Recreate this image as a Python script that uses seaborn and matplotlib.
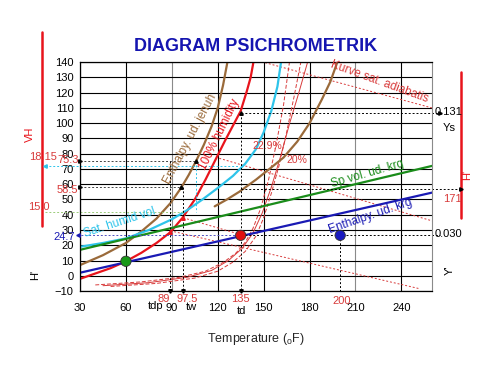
import matplotlib
matplotlib.use("Agg")
import matplotlib.pyplot as plt
import seaborn as sns
import pandas as pd

# Settings
sns.set_style("white")
plt.rcParams['font.family'] = ['Liberation Sans', 'DejaVu Sans']

# --- data (x = temperature oF, y = left scale) ---
sat_t = [30, 40, 50, 60, 70, 80, 89, 97, 105, 112, 119, 125, 130, 135, 139, 141.5, 143.5]
sat_y = [-2, 1.5, 5, 9.5, 15, 21.5, 28.5, 38, 50, 63, 77, 89, 98.5, 108, 121, 130, 141]

enth_sat_t = [30, 45, 60, 70, 80, 89, 96, 101, 106, 111, 116, 120, 123.5, 126.5]
enth_sat_y = [7, 13.5, 21.5, 29, 37.5, 47.5, 57.5, 66, 75.5, 86, 98, 110, 125, 141]

humvol_t = [30, 45, 60, 75, 90, 100, 110, 120, 130, 138, 145, 150, 155, 159, 161.5]
humvol_y = [19, 21.5, 24.5, 30, 37, 43, 50, 57.5, 65.5, 73.5, 83, 94, 108, 124, 141]

enth_hi_t = [118, 126, 134, 145, 155, 163, 172, 180, 188, 193.5, 198.5]
enth_hi_y = [45.5, 50, 55, 63, 71, 77.5, 88, 100, 115.5, 127, 141]

spvol_t = [30, 260]
spvol_y = [17, 72]
enth_dry_t = [30, 260]
enth_dry_y = [2, 54.5]

rh1_t = [40, 70, 95, 112, 124, 132, 138, 143, 148, 153, 158, 163, 167]
rh1_y = [-6, -4, -1, 3, 9, 15, 22, 31, 44, 62, 85, 112, 141]
rh2_t = [50, 80, 105, 120, 130, 138, 145, 150, 155, 160, 165, 170, 174.5]
rh2_y = [-7, -5, -1.5, 3, 9, 16, 26, 38, 54, 72, 94, 118, 141]
rh3_t = [45, 75, 100, 116, 127, 136, 143, 149, 155, 161, 167, 173, 179]
rh3_y = [-6.5, -4.5, -1, 3.5, 10, 18, 28, 41, 58, 78, 100, 120, 141]

adiab_lines = [([146, 260], [141, 110]),
               ([121, 260], [77, 36]),
               ([97.5, 135], [38, 27]),
               ([89, 252], [29.5, -8.5])]

pt_t = [60, 135, 200]
pt_y = [9.5, 26.5, 26.5]
pt_col = ['#1a9a1a', '#e01010', '#1a1ac0']

x_ticks = [30, 60, 90, 120, 150, 180, 210, 240]
y_ticks = list(range(-10, 141, 10))

RED = '#e8141c'
BROWN = '#9a6a3a'
CYAN = '#2ec4ea'
GREEN = '#1a8c1a'
BLUE = '#1a1ab4'
TRED = '#d83a3a'

fig = plt.figure(figsize=(5, 3.86), dpi=100)
ax = fig.add_axes([0.16, 0.246, 0.704, 0.593])

# curves
def curve(t, y, color, lw=1.6, **kw):
    df = pd.DataFrame({"t": t, "y": y})
    sns.lineplot(data=df, x="t", y="y", sort=False, estimator=None,
                 color=color, lw=lw, ax=ax, **kw)

for t, y, ls in [(rh1_t, rh1_y, (0, (4, 2))), (rh2_t, rh2_y, (0, (4, 2))),
                 (rh3_t, rh3_y, '-')]:
    curve(t, y, TRED, lw=0.7, linestyle=ls)
for t, y in adiab_lines:
    curve(t, y, TRED, lw=0.7, linestyle=(0, (2, 2)))

curve(enth_sat_t, enth_sat_y, BROWN)
curve(sat_t, sat_y, RED)
curve(humvol_t, humvol_y, CYAN)
curve(enth_hi_t, enth_hi_y, BROWN)
curve(spvol_t, spvol_y, GREEN)
curve(enth_dry_t, enth_dry_y, BLUE)

# guide lines
dot = dict(lw=0.7, linestyle=(0, (2, 2)), clip_on=False)
ax.plot([30, 105.7], [75.3, 75.3], color='#444444', **dot)
ax.plot([30, 96.3], [58.5, 58.5], color='#444444', **dot)
ax.plot([7, 134], [72, 72], color=CYAN, **dot)
ax.plot([7, 98], [42, 42], color='#9ccc7a', **dot)
ax.plot([28, 135], [26.5, 26.5], color='#5050c0', **dot)
ax.plot([135, 265], [26.5, 26.5], color='black', **dot)
ax.plot([135, 265], [107, 107], color='black', **dot)
ax.plot([135, 279], [56.8, 56.8], color='black', **dot)
ax.plot([105.7, 105.7], [75.3, 42], color=CYAN, **dot)
ax.plot([89, 89], [75.3, -10], color='black', **dot)
ax.plot([97.5, 97.5], [58.5, -10], color='black', **dot)
ax.plot([135, 135], [107, -10], color='black', **dot)
ax.plot([200, 200], [26.5, -10], color='black', **dot)

mk = dict(ms=2.5, clip_on=False, zorder=5, lw=0)
ax.plot([30, 30], [75.3, 58.5], marker='>', color='black', **mk)
ax.plot([105.7, 96.3, 135], [75.3, 58.5, 107], marker='^', color='black', **mk)
ax.plot([89, 97.5, 135], [-10, -10, -10], marker='v', color='black', **mk)
ax.plot([265], [107], marker='>', color='black', **mk)
ax.plot([279.2], [56.8], marker='>', color='black', **mk)
ax.plot([7], [72], marker='<', color=CYAN, **mk)
ax.plot([28.5], [26.5], marker='<', color=BLUE, **mk)
ax.plot([89, 97.5], [28.5, 38], marker='^', color=RED, **mk)

# state points
sns.scatterplot(x=pt_t, y=pt_y, hue=pt_t, palette=pt_col, s=55,
                edgecolor='#333333', linewidth=0.6, legend=False, zorder=6, ax=ax)

# side scales
ax.plot([5.2, 5.2], [159.5, 32.5], color=RED, lw=1.8, clip_on=False)
ax.plot([279.2, 279.2], [133.8, 37.8], color=RED, lw=1.8, clip_on=False)

# axes styling
ax.set_xlim(30, 260)
ax.set_ylim(-10, 140)
ax.set_xticks(x_ticks)
ax.set_xticks(range(30, 260, 10), minor=True)
ax.set_yticks(y_ticks)
ax.tick_params(axis='both', which='both', direction='inout', length=5,
               width=0.8, labelsize=8, colors='black', pad=2)
ax.tick_params(axis='x', which='major', pad=6)
ax.grid(True, color='black', lw=0.8)
for g, v in zip(ax.get_xgridlines(), x_ticks):
    if v in (90, 210):
        g.set_color('#8a8a8a')
for s in ['left', 'bottom', 'top']:
    ax.spines[s].set_color('black')
    ax.spines[s].set_linewidth(0.9)
ax.spines['right'].set_color('#8a8a8a')
ax.set_xlabel("Temperature ($_\\mathregular{o}$F)", fontsize=9, labelpad=13)
ax.set_ylabel("")
ax.set_title("DIAGRAM PSICHROMETRIK", color='#1515b0', fontweight='bold',
             fontsize=13, pad=8)

# curve labels
cl = dict(fontsize=8.5, ha='center', va='center')
ax.text(101.8, 89.7, "Enthalpy. ud. jenuh", color=BROWN, rotation=62, **cl)
ax.text(121.3, 92.4, "100% humidity", color=RED, rotation=64, **cl)
ax.text(225.7, 127.2, "Kurve sat. adiabatis", color=TRED, rotation=-20, **cl)
ax.text(217.9, 66.7, "Sp vol. ud. krg", color=GREEN, rotation=16, **cl)
ax.text(219.8, 39, "Enthalpy. ud. krg", color=BLUE, rotation=19, **cl)
ax.text(56.1, 35.1, "Sat. humid vol", color=CYAN, rotation=18, **cl)
ax.text(152.6, 85, "22.9%", color=TRED, fontsize=7.5, ha='center', va='center')
ax.text(171.6, 75.9, "20%", color=TRED, fontsize=7.5, ha='center', va='center')

# side texts
tk = dict(ha='center', va='center', fontsize=8)
ax.text(-2.6, 92.4, "VH", color=RED, rotation=90, **tk)
ax.text(15, 77.9, "18.15", color=TRED, fontsize=8, ha='right', va='center')
ax.text(15.2, 75.9, "75.3", color=TRED, fontsize=8, ha='left', va='center')
ax.text(21.5, 56.2, "58.5", color=TRED, **tk)
ax.text(3.3, 45, "15.0", color=TRED, **tk)
ax.text(19.6, 25.2, "24.7", color=BLUE, **tk)
ax.text(0.6, 0.3, "H'", color='black', rotation=90, **tk)
ax.text(271, 107.5, "0.131", color='black', **tk)
ax.text(271, 97, "Ys", color='black', **tk)
ax.text(271, 27.2, "0.030", color='black', **tk)
ax.text(283, 66, "H'", color=RED, rotation=90, **tk)
ax.text(273.3, 50.3, "171", color=TRED, **tk)
ax.text(271.4, 3.5, "Y'", color='black', rotation=90, **tk)

# bottom marks
ax.text(84.5, -15.2, "89", color=TRED, **tk)
ax.text(100, -15.2, "97.5", color=TRED, **tk)
ax.text(135, -15.2, "135", color=TRED, **tk)
ax.text(201, -16.5, "200", color=TRED, **tk)
ax.text(79.6, -20, "tdp", color='black', **tk)
ax.text(103, -20.5, "tw", color='black', **tk)
ax.text(135.7, -23, "td", color='black', **tk)

fig.savefig("out.png", dpi=100)
